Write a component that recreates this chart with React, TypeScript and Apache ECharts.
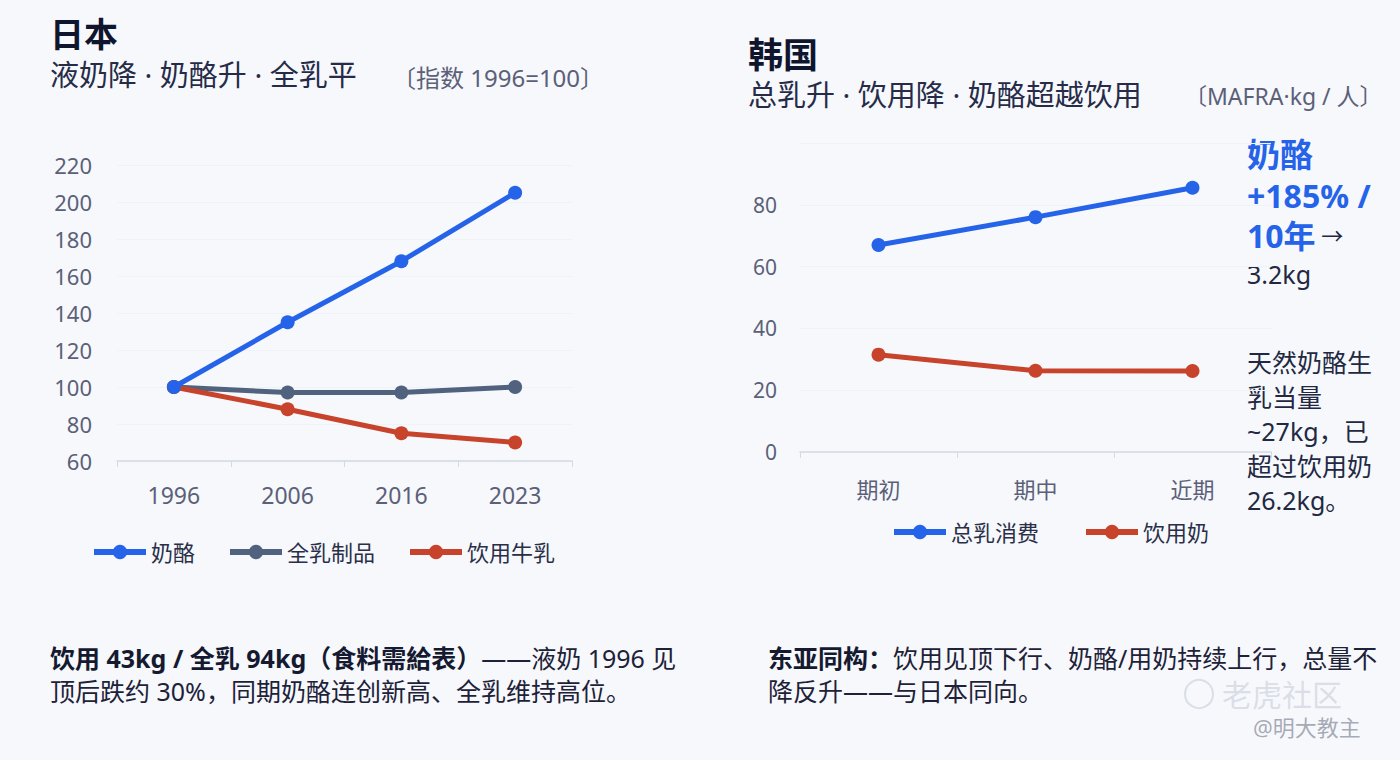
import React, { useEffect, useRef } from "react";
import * as echarts from "echarts";

const jpYears = ["1996", "2006", "2016", "2023"];
const jpCheese = [100, 135, 168, 205];
const jpWholeMilk = [100, 97, 97, 100];
const jpDrinkMilk = [100, 88, 75, 70];

const krPeriods = ["期初", "期中", "近期"];
const krTotalMilk = [67, 76, 85.5];
const krDrinkMilk = [31.5, 26.3, 26.2];

const BLUE = "#2563e8";
const SLATE = "#51627f";
const RED = "#c8432b";
const FONT = "'Noto Sans', 'Noto Sans CJK SC', sans-serif";
const AXIS_TXT = "#5b6078";
const DARK = "#232842";

export default function App() {
  const ref = useRef<HTMLDivElement>(null);
  useEffect(() => {
    document.body.style.margin = "0";
    const chart = echarts.init(ref.current!, null, { renderer: "svg" });
    const lineSeries = (name: string, data: number[], color: string, idx: number, z = 2) => ({
      type: "line",
      name,
      data,
      xAxisIndex: idx,
      yAxisIndex: idx,
      symbol: "circle",
      symbolSize: 14,
      z,
      lineStyle: { color, width: 5 },
      itemStyle: { color },
    });
    const txt = (x: number, y: number, text: string, style: any) => ({
      type: "text",
      x,
      y,
      style: { text, fontFamily: FONT, ...style },
    });
    const legendBase = {
      itemWidth: 52,
      itemHeight: 18,
      lineStyle: { width: 6 },
      textStyle: { color: "#2a2f48", fontSize: 22, fontFamily: FONT },
    };
    chart.setOption({
      animation: false,
      backgroundColor: "#f6f8fc",
      textStyle: { fontFamily: FONT },
      grid: [
        { left: 117, width: 455, top: 165, height: 296 },
        { left: 800, width: 471, top: 143, height: 309 },
      ],
      xAxis: [
        {
          gridIndex: 0,
          type: "category",
          data: jpYears,
          boundaryGap: true,
          axisLine: { lineStyle: { color: "#d3d9e6", width: 1.5 } },
          axisTick: { show: true, length: 6, lineStyle: { color: "#d3d9e6" } },
          axisLabel: { color: AXIS_TXT, fontSize: 23, margin: 22, fontFamily: FONT },
        },
        {
          gridIndex: 1,
          type: "category",
          data: krPeriods,
          boundaryGap: true,
          axisLine: { lineStyle: { color: "#d3d9e6", width: 1.5 } },
          axisTick: { show: true, length: 6, lineStyle: { color: "#d3d9e6" } },
          axisLabel: { color: AXIS_TXT, fontSize: 22, margin: 26, fontFamily: FONT },
        },
      ],
      yAxis: [
        {
          gridIndex: 0,
          type: "value",
          min: 60,
          max: 220,
          interval: 20,
          axisLine: { show: false },
          axisTick: { show: false },
          splitLine: { lineStyle: { color: "#eff2f7", width: 1 } },
          axisLabel: { color: AXIS_TXT, fontSize: 22, margin: 25, fontFamily: FONT },
        },
        {
          gridIndex: 1,
          type: "value",
          min: 0,
          max: 100,
          interval: 20,
          axisLine: { show: false },
          axisTick: { show: false },
          splitLine: { lineStyle: { color: "#eff2f7", width: 1 } },
          axisLabel: { color: AXIS_TXT, fontSize: 21, margin: 23, showMaxLabel: false, fontFamily: FONT },
        },
      ],
      legend: [
        {
          ...legendBase,
          data: ["奶酪", "全乳制品", "饮用牛乳"],
          left: 86,
          top: 536,
          itemGap: 32,
        },
        {
          ...legendBase,
          data: ["总乳消费", "饮用奶"],
          left: 886,
          top: 516,
          itemGap: 44,
        },
      ],
      series: [
        lineSeries("全乳制品", jpWholeMilk, SLATE, 0, 2),
        lineSeries("饮用牛乳", jpDrinkMilk, RED, 0, 3),
        lineSeries("奶酪", jpCheese, BLUE, 0, 4),
        lineSeries("总乳消费", krTotalMilk, BLUE, 1, 3),
        lineSeries("饮用奶", krDrinkMilk, RED, 1, 3),
      ],
      graphic: [
        txt(50, 17, "日本", { fontSize: 34, fontWeight: "bold", fill: "#10152e" }),
        txt(50, 60, "液奶降 · 奶酪升 · 全乳平", { fontSize: 29, fill: "#262b48" }),
        txt(392, 65, "〔指数 1996=100〕", { fontSize: 24, fill: "#5b6078" }),
        txt(748, 37, "韩国", { fontSize: 35, fontWeight: "bold", fill: "#10152e" }),
        txt(748, 80, "总乳升 · 饮用降 · 奶酪超越饮用", { fontSize: 29, fill: "#262b48" }),
        txt(1184, 84, "〔MAFRA·kg / 人〕", { fontSize: 23, fill: "#5b6078" }),
        txt(1247, 138, "奶酪", { fontSize: 33, fontWeight: "bold", fill: BLUE }),
        txt(1247, 179, "+185% /", { fontSize: 32, fontWeight: "bold", fill: BLUE }),
        {
          type: "text",
          x: 1247,
          y: 219,
          style: {
            text: "{b|10年}{a| →}",
            fontFamily: FONT,
            rich: {
              b: { fontSize: 32, fontWeight: "bold", fill: BLUE, fontFamily: FONT },
              a: { fontSize: 22, fill: DARK, fontFamily: FONT },
            },
          },
        },
        txt(1247, 261, "3.2kg", { fontSize: 25, fill: DARK }),
        txt(1247, 345, "天然奶酪生\n乳当量\n~27kg，已\n超过饮用奶\n26.2kg。", {
          fontSize: 25,
          lineHeight: 34.5,
          fill: DARK,
        }),
        {
          type: "text",
          x: 50,
          y: 645,
          style: {
            text: "{b|饮用 43kg / 全乳 94kg（食料需給表）}——液奶 1996 见",
            fontFamily: FONT,
            fontSize: 25,
            fill: "#1e2238",
            rich: { b: { fontSize: 25, fontWeight: "bold", fill: "#151a30", fontFamily: FONT } },
          },
        },
        txt(50, 678, "顶后跌约 30%，同期奶酪连创新高、全乳维持高位。", { fontSize: 25, fill: "#1e2238" }),
        {
          type: "text",
          x: 768,
          y: 645,
          style: {
            text: "{b|东亚同构：}饮用见顶下行、奶酪/用奶持续上行，总量不",
            fontFamily: FONT,
            fontSize: 25,
            fill: "#1e2238",
            rich: { b: { fontSize: 25, fontWeight: "bold", fill: "#151a30", fontFamily: FONT } },
          },
        },
        txt(768, 678, "降反升——与日本同向。", { fontSize: 25, fill: "#1e2238" }),
        { type: "circle", shape: { cx: 1199, cy: 694, r: 14 }, style: { fill: "none", stroke: "rgba(185,190,205,0.45)", lineWidth: 2 } },
        txt(1222, 679, "老虎社区", { fontSize: 30, fill: "rgba(185,190,205,0.45)" }),
        txt(1253, 716, "@明大教主", { fontSize: 22, fill: "rgba(140,145,160,0.75)" }),
      ],
    });
    return () => chart.dispose();
  }, []);
  return <div ref={ref} style={{ width: 1400, height: 760 }} />;
}
